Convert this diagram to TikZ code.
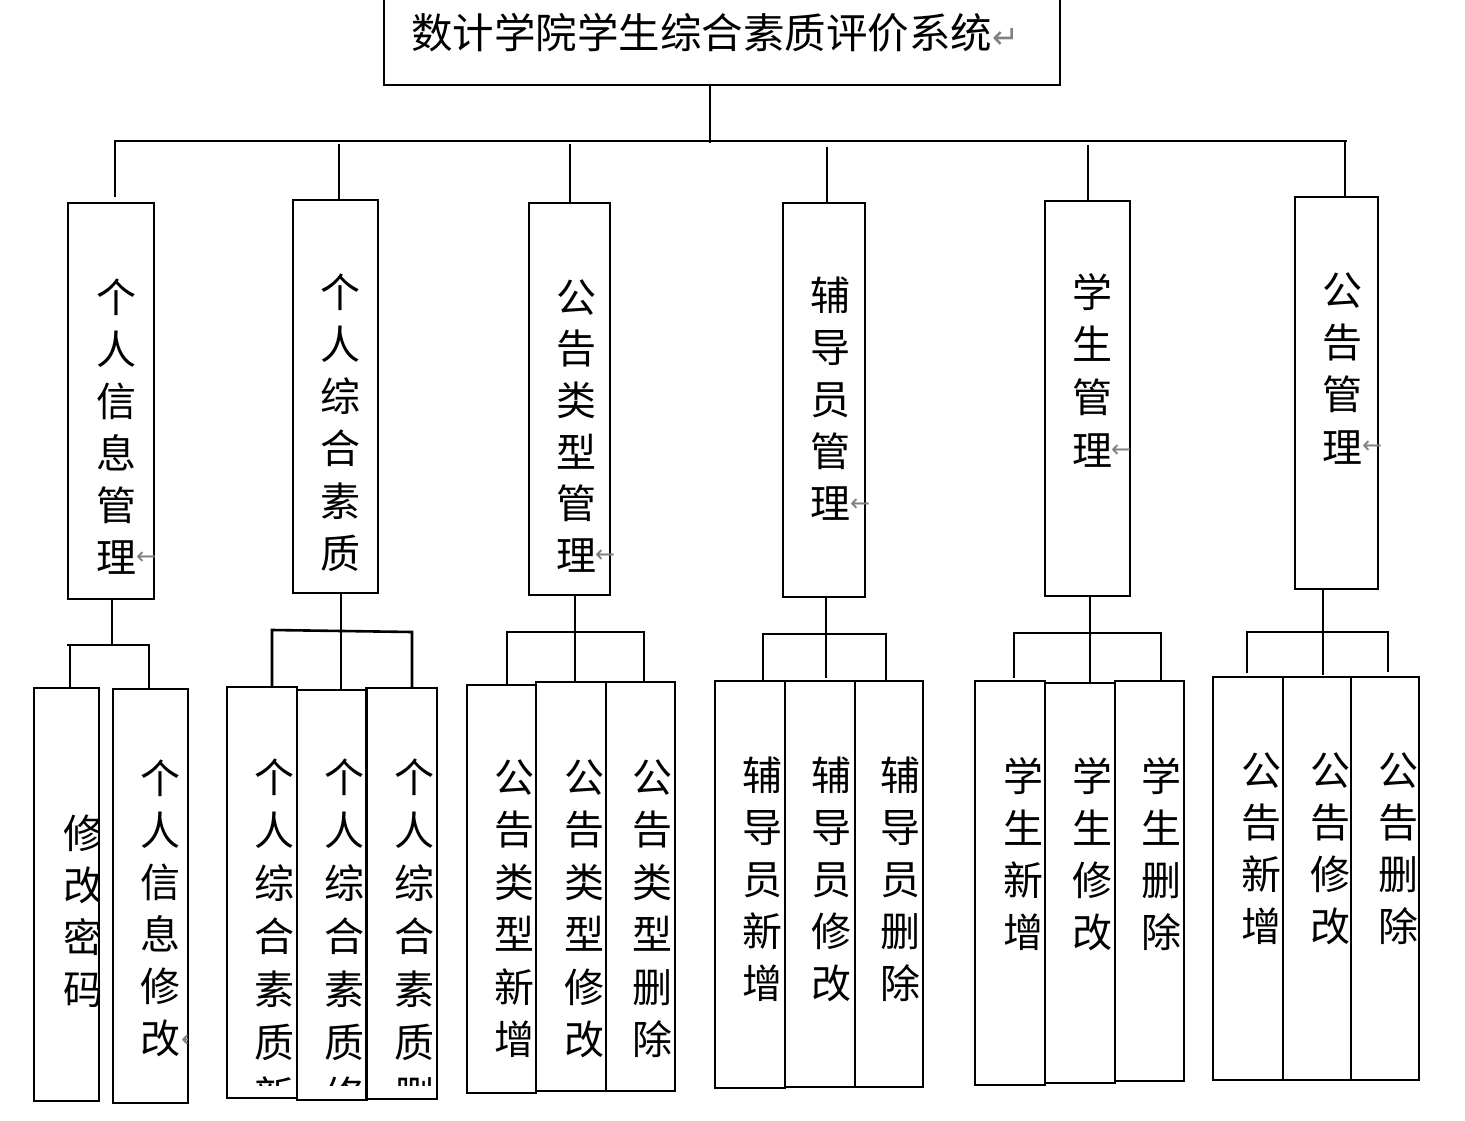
\documentclass[tikz,border=0pt]{standalone}
\usepackage{fontspec}
\newfontfamily\cjk{Noto Sans CJK SC}
\newfontfamily\symf{DejaVu Sans}
\tikzset{
  box/.style={draw=black, line width=2.8pt, inner sep=0pt, outer sep=0pt},
  conn/.style={draw=black, line width=2.6pt},
  ch/.style={font=\cjk\fontsize{40}{40}\selectfont, inner sep=0pt, text height=35.2pt, text depth=4.8pt},
  ttl/.style={font=\cjk\fontsize{41.5}{41.5}\selectfont, inner sep=0pt, text height=36.5pt, text depth=5pt, anchor=west},
  ret/.style={font=\symf\fontsize{24}{24}\selectfont, text=gray, inner sep=0pt, anchor=west}
}
\newcommand\bx[5]{\node[box, minimum width={#4-#2}, minimum height={#5-#3}] (#1) at ({(#2+#4)/2},{(#3+#5)/2}) {};}
\newcommand\vcol[5]{\foreach \c [count=\i] in {#5} {\node[ch] (#1-\i) at (#2,{#3+(\i-1)*#4}) {\c};}}
\begin{document}
\begin{tikzpicture}[x=1pt,y=-1pt]
\useasboundingbox (0,0) rectangle (1465,1121);
\fill[white] (0,0) rectangle (1465,1121);

% title
\bx{T}{384}{-6}{1060}{85}
\node[ttl] (Tt) at (411,33) {数计学院学生综合素质评价系统{\symf\fontsize{32}{32}\selectfont\color{gray}↵}};

% first level boxes
\bx{P1}{68}{203}{154}{599}
\bx{P2}{293}{200}{378}{593}
\bx{P3}{529}{203}{610}{595}
\bx{P4}{783}{203}{865}{597}
\bx{P5}{1045}{201}{1130}{596}
\bx{P6}{1295}{197}{1378}{589}

\vcol{p1t}{116}{297}{52}{个,人,信,息,管,理}
\node[ret] (p1r) at (136,558) {←};
\vcol{p2t}{340}{292}{52.2}{个,人,综,合,素,质}
\vcol{p3t}{576}{297}{51.6}{公,告,类,型,管,理}
\node[ret] (p3r) at (595,556) {←};
\vcol{p4t}{830}{295}{52}{辅,导,员,管,理}
\node[ret] (p4r) at (850,505) {←};
\vcol{p5t}{1092}{292}{52.7}{学,生,管,理}
\node[ret] (p5r) at (1111,451) {←};
\vcol{p6t}{1342}{290}{52.3}{公,告,管,理}
\node[ret] (p6r) at (1362,447) {←};

% top connectors
\coordinate (busL) at (115,141);
\coordinate (busR) at (1347,141);
\coordinate (busM) at (710,141);
\draw[conn] (T.south -| busM) -- ([yshift=-2pt]busM);
\draw[conn] ([yshift=6pt]P1.north -| busL) -- (busL) -- (busR);
\coordinate (d2) at (339,144);
\coordinate (d3) at (570,144);
\coordinate (d4) at (827,147);
\coordinate (d5) at (1088,145);
\coordinate (d6) at (1345,141);
\draw[conn] (d2) -- (d2 |- P2.north);
\draw[conn] (d3) -- (d3 |- P3.north);
\draw[conn] (d4) -- (d4 |- P4.north);
\draw[conn] (d5) -- (d5 |- P5.north);
\draw[conn] (d6) -- (d6 |- P6.north);

% group 1
\bx{c11}{34}{688}{99}{1101}
\bx{c12}{113}{689}{188}{1103}
\begin{scope}
\clip (34,688) rectangle (98,1101);
\vcol{c11t}{83}{833}{52}{修,改,密,码}
\end{scope}
\vcol{c12t}{160}{778}{52}{个,人,信,息,修,改}
\begin{scope}
\clip (113,689) rectangle (187,1103);
\node[ret] (c12r) at (181,1041) {←};
\end{scope}
\coordinate (g1t) at (112,645);
\coordinate (g1a) at (67,645);
\coordinate (g1b) at (149,645);
\coordinate (g1l) at (70,645);
\draw[conn] (P1.south -| g1t) -- (g1t);
\draw[conn] (g1a) -- (g1b) -- (g1b |- c12.north);
\draw[conn] (g1l) -- (g1l |- c11.north);

% group 2
\begin{scope}
\clip (220,680) rectangle (445,1085);
\vcol{c21t}{274}{777}{53}{个,人,综,合,素,质,新}
\vcol{c22t}{344}{777}{53}{个,人,综,合,素,质,修}
\vcol{c23t}{414}{777}{53}{个,人,综,合,素,质,删}
\end{scope}
\bx{c21}{227}{687}{297}{1098}
\bx{c22}{297}{690}{367}{1100}
\bx{c23}{366}{688}{437}{1099}
\coordinate (g2t) at (341,631);
\coordinate (g2l) at (272,630);
\coordinate (g2r) at (412,632);
\draw[conn] (P2.south -| g2t) -- (g2t |- c22.north);
\draw[conn] (g2l |- c21.north) -- (g2l) -- (g2r) -- (g2r |- c23.north);

% group 3
\vcol{c31t}{514}{777}{52.5}{公,告,类,型,新,增}
\vcol{c32t}{584}{777}{52.5}{公,告,类,型,修,改}
\vcol{c33t}{652}{777}{52.5}{公,告,类,型,删,除}
\bx{c31}{467}{685}{536}{1093}
\bx{c32}{536}{682}{606}{1091}
\bx{c33}{606}{682}{675}{1091}
\coordinate (g3t) at (575,632);
\coordinate (g3l) at (507,632);
\coordinate (g3r) at (644,632);
\draw[conn] (P3.south -| g3t) -- (g3t |- c32.north);
\draw[conn] (g3l |- c31.north) -- (g3l) -- (g3r) -- (g3r |- c33.north);

% group 4
\vcol{c41t}{762}{775}{52}{辅,导,员,新,增}
\vcol{c42t}{831}{775}{52}{辅,导,员,修,改}
\vcol{c43t}{900}{775}{52}{辅,导,员,删,除}
\bx{c41}{715}{681}{785}{1088}
\bx{c42}{785}{681}{855}{1087}
\bx{c43}{855}{681}{923}{1087}
\coordinate (g4t) at (826,634);
\coordinate (g4l) at (763,634);
\coordinate (g4r) at (886,634);
\draw[conn] (P4.south -| g4t) -- ([yshift=3pt]g4t |- c42.north);
\draw[conn] ([yshift=1pt]g4l |- c41.north) -- (g4l) -- (g4r) -- ([yshift=1pt]g4r |- c43.north);

% group 5
\vcol{c51t}{1023}{776}{52}{学,生,新,增}
\vcol{c52t}{1092}{776}{52}{学,生,修,改}
\vcol{c53t}{1161}{776}{52}{学,生,删,除}
\bx{c51}{975}{681}{1045}{1085}
\bx{c52}{1045}{683}{1115}{1083}
\bx{c53}{1115}{681}{1184}{1081}
\coordinate (g5t) at (1090,633);
\coordinate (g5l) at (1014,633);
\coordinate (g5r) at (1161,633);
\draw[conn] (P5.south -| g5t) -- (g5t |- c52.north);
\draw[conn] ([yshift=3pt]g5l |- c51.north) -- (g5l) -- (g5r) -- ([yshift=1pt]g5r |- c53.north);

% group 6
\vcol{c61t}{1261}{770}{52}{公,告,新,增}
\vcol{c62t}{1330}{770}{52}{公,告,修,改}
\vcol{c63t}{1398}{770}{52}{公,告,删,除}
\bx{c61}{1213}{677}{1283}{1080}
\bx{c62}{1283}{677}{1351}{1080}
\bx{c63}{1351}{677}{1419}{1080}
\coordinate (g6t) at (1323,632);
\coordinate (g6l) at (1247,632);
\coordinate (g6r) at (1388,632);
\draw[conn] (P6.south -| g6t) -- ([yshift=2pt]g6t |- c62.north);
\draw[conn] ([yshift=4pt]g6l |- c61.north) -- (g6l) -- (g6r) -- ([yshift=5pt]g6r |- c63.north);
\end{tikzpicture}
\end{document}
